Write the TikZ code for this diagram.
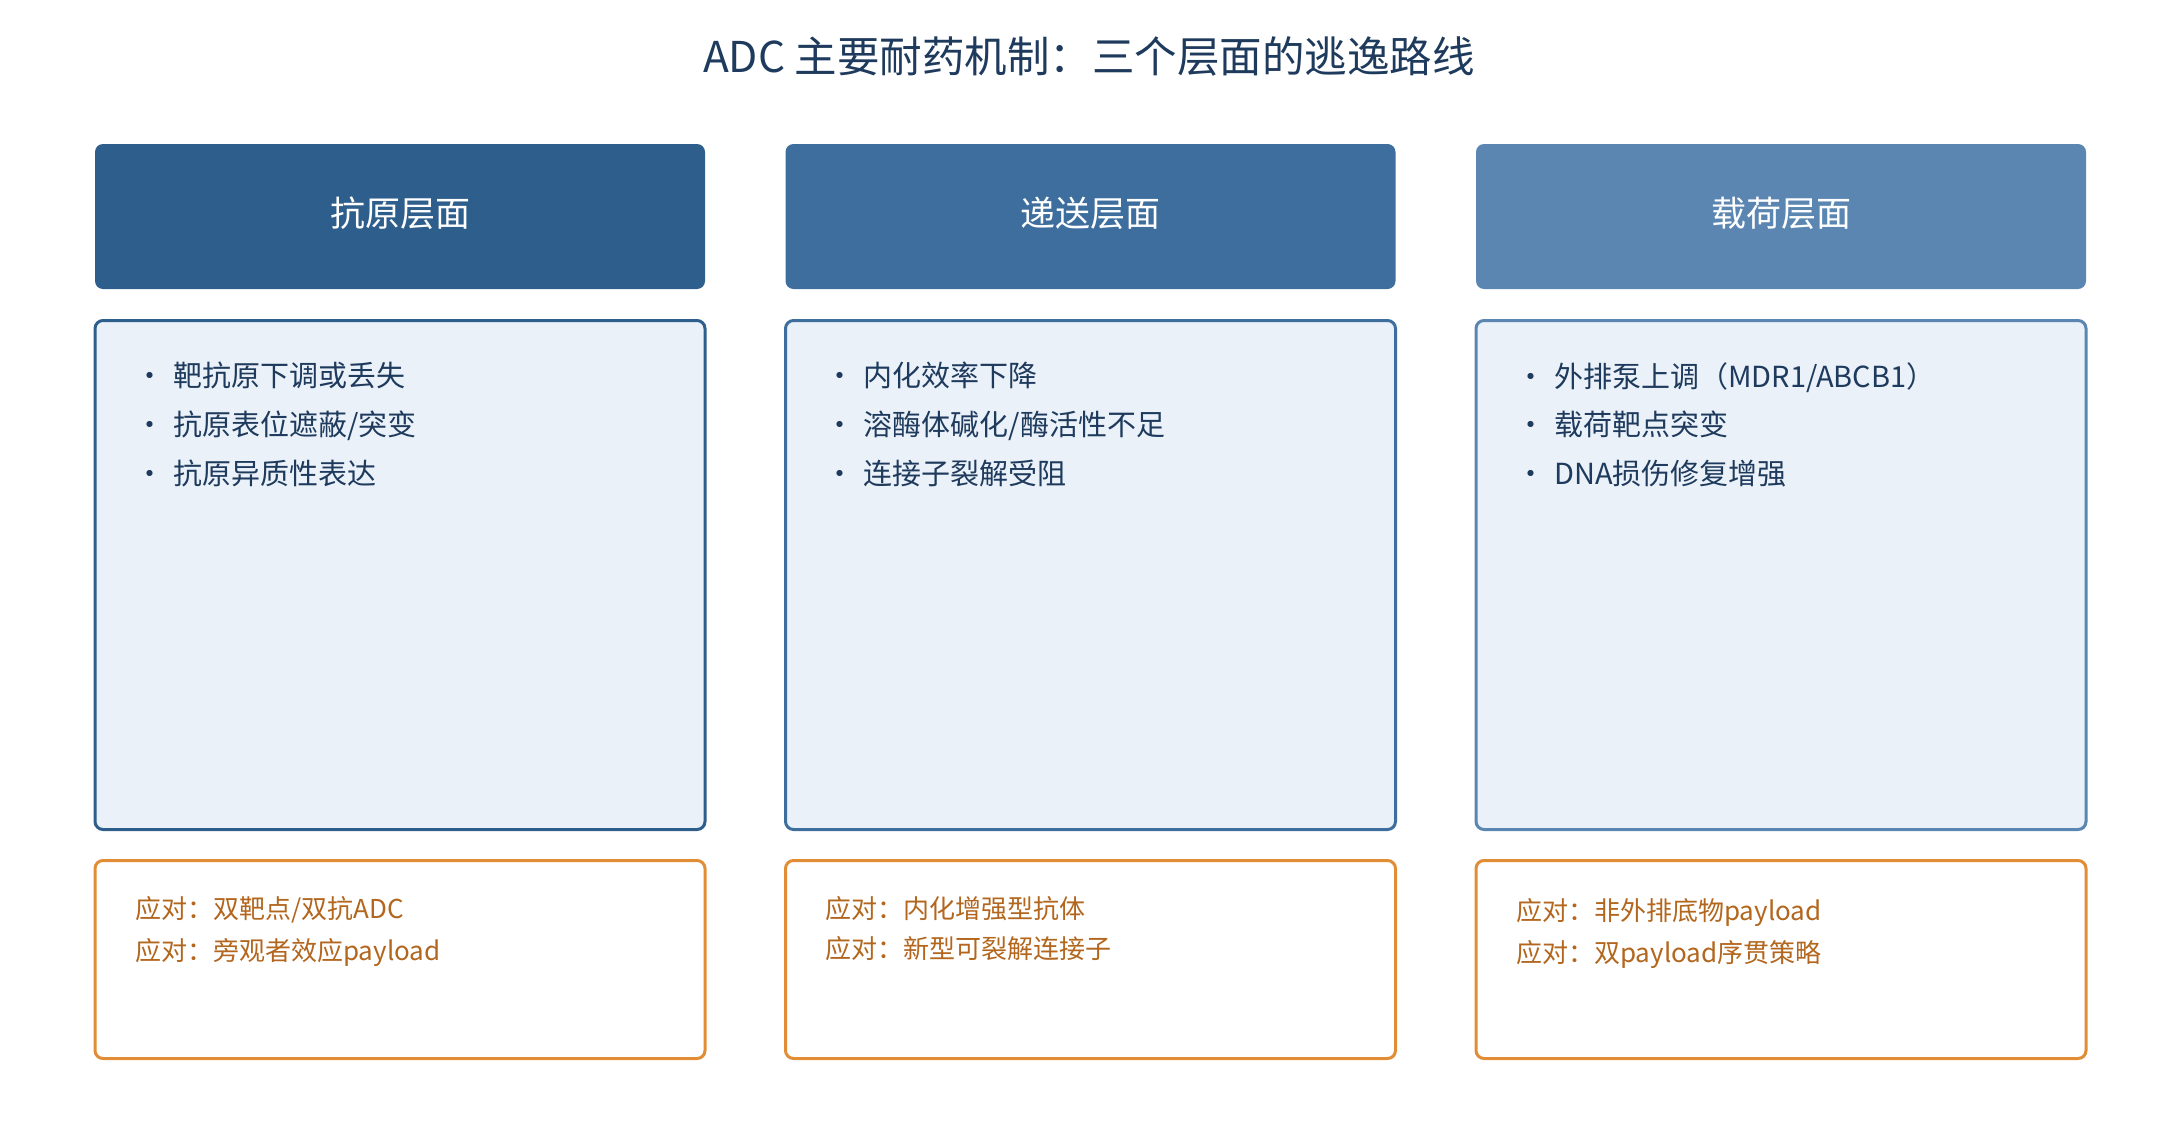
\documentclass[tikz,border=0pt]{standalone}
\usepackage{fontspec}
\setmainfont{Noto Sans CJK SC}
\usepackage{xcolor}
\usepackage{tikz}
\usetikzlibrary{positioning}

\definecolor{navy}{HTML}{1E3A5C}
\definecolor{hdrA}{HTML}{2E5E8B}
\definecolor{hdrB}{HTML}{3D6E9D}
\definecolor{hdrC}{HTML}{5B86B1}
\definecolor{bodyfill}{HTML}{EAF1F9}
\definecolor{noteline}{HTML}{E08D35}
\definecolor{notetxt}{HTML}{B3661E}

\begin{document}
\begin{tikzpicture}[x=1pt,y=-1pt,
        headbox/.style={rectangle,rounded corners=8pt,minimum width=610pt,minimum height=145pt,inner sep=0pt,text=white,text height=19pt,text depth=0pt,font=\fontsize{35}{40}\selectfont},
        bodybox/.style={rectangle,rounded corners=8pt,draw=#1,line width=3pt,fill=bodyfill,minimum width=610pt,minimum height=509pt,inner sep=0pt},
        notebox/.style={rectangle,rounded corners=8pt,draw=noteline,line width=3pt,fill=white,minimum width=610pt,minimum height=198pt,inner sep=0pt},
        itemtext/.style={anchor=west,inner sep=0pt,text=navy,text height=22pt,text depth=0pt,font=\fontsize{29}{34}\selectfont},
        notetext/.style={anchor=west,inner sep=0pt,text=notetxt,text height=20pt,text depth=0pt,font=\fontsize{26}{30}\selectfont}]
                \useasboundingbox (0,0) rectangle (2179,1140);
                \node[text=navy,text height=33pt,text depth=0pt,font=\fontsize{42.5}{48}\selectfont] (title) at (1089,56) {ADC 主要耐药机制：三个层面的逃逸路线};

                % antigen column
                \node[headbox,fill=hdrA] (headA) at (400,216.5) {抗原层面};
                \node[bodybox=hdrA] (bodyA) at (400,575) {};
                \node[notebox] (noteA) at (400,959.5) {};
                \node[itemtext] (itemA1) at (135,375) {\makebox[38pt][l]{·}靶抗原下调或丢失};
                \node[itemtext] (itemA2) at (135,424) {\makebox[38pt][l]{·}抗原表位遮蔽/突变};
                \node[itemtext] (itemA3) at (135,473) {\makebox[38pt][l]{·}抗原异质性表达};
                \node[notetext] (noteA1) at (135,908) {应对：双靶点/双抗ADC};
                \node[notetext] (noteA2) at (135,950) {应对：旁观者效应payload};

                % delivery column
                \node[headbox,fill=hdrB] (headB) at (1090.5,216.5) {递送层面};
                \node[bodybox=hdrB] (bodyB) at (1090.5,575) {};
                \node[notebox] (noteB) at (1090.5,959.5) {};
                \node[itemtext] (itemB1) at (825.5,375) {\makebox[38pt][l]{·}内化效率下降};
                \node[itemtext] (itemB2) at (825.5,424) {\makebox[38pt][l]{·}溶酶体碱化/酶活性不足};
                \node[itemtext] (itemB3) at (825.5,473) {\makebox[38pt][l]{·}连接子裂解受阻};
                \node[notetext] (noteB1) at (825.5,908) {应对：内化增强型抗体};
                \node[notetext] (noteB2) at (825.5,948) {应对：新型可裂解连接子};

                % payload column
                \node[headbox,fill=hdrC] (headC) at (1781,216.5) {载荷层面};
                \node[bodybox=hdrC] (bodyC) at (1781,575) {};
                \node[notebox] (noteC) at (1781,959.5) {};
                \node[itemtext] (itemC1) at (1516,376) {\makebox[38pt][l]{·}外排泵上调（MDR1/ABCB1）};
                \node[itemtext] (itemC2) at (1516,424) {\makebox[38pt][l]{·}载荷靶点突变};
                \node[itemtext] (itemC3) at (1516,473) {\makebox[38pt][l]{·}DNA损伤修复增强};
                \node[notetext] (noteC1) at (1516,910) {应对：非外排底物payload};
                \node[notetext] (noteC2) at (1516,952) {应对：双payload序贯策略};
            \end{tikzpicture}
\end{document}
